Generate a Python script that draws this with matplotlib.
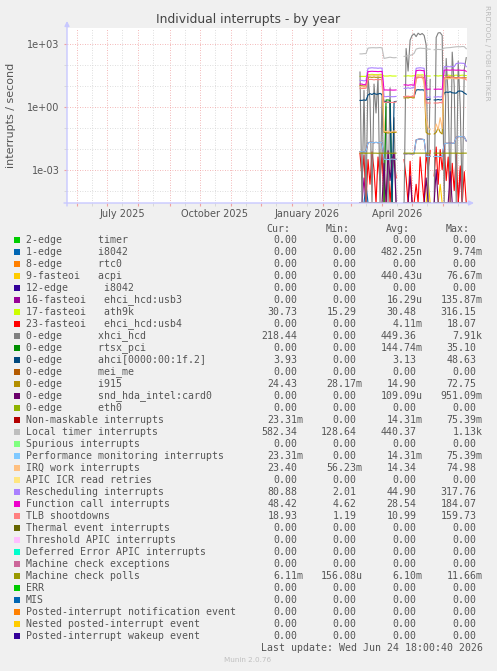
import numpy as np
import matplotlib
matplotlib.use("Agg")
import matplotlib.pyplot as plt
import matplotlib.dates as mdates
import matplotlib.ticker as mticker
from matplotlib.patches import Rectangle
from datetime import datetime, timedelta

nan = float("nan")

# samples every 2 days, 2026-03-10 .. 2026-06-23 (gaps are nan)
dates = [datetime(2026, 3, 10) + timedelta(days=2 * k) for k in range(54)]

zero = [0] * 19 + [nan] * 3 + [0] * 14 + [nan] + [0] * 17

local_timer = [
    330, 330, 340, 340, 620, 640, 650, 650, 640, 650, 660, 640, 200, 210, 220, 230, 220, 215, 220,
    nan, nan, nan,
    250, 260, 270, 280, 300, 350, 560, 600, 620, 610, 600, 580, 560, 550,
    nan,
    520, 530, 540, 530, 540, 620, 640, 650, 660, 680, 700, 720, 730, 720, 740, 730, 582.34,
]
xhci = [
    45, 0, 6, 0, 30, 2, 0, 12, 0.5, 25, 0, 4, 0, 1, 0, 8, 0, 0.3, 0,
    nan, nan, nan,
    0, 600, 50, 1500, 2500, 3000, 2200, 3200, 2700, 3100, 2500, 900, 0, 20,
    nan,
    0, 2000, 3300, 3400, 2500, 0, 200, 3, 0, 400, 10, 0, 150, 1, 0, 60, 218.44,
]
resched = [
    18, 18, 17, 18, 68, 70, 72, 70, 70, 68, 70, 69, 3, 3, 3.1, 3, 3, 3, 3.1,
    nan, nan, nan,
    7.5, 7.5, 8, 7.5, 8, 8, 68, 70, 72, 70, 68, 2.8, 2.8, 2.9,
    nan,
    2.9, 2.9, 3, 2.9, 3, 80, 82, 81, 80, 82, 81, 115, 118, 120, 118, 116, 80.88,
]
func_call = [
    12, 12, 11, 12, 47, 48, 49, 48, 48, 47, 48, 48, 6.2, 6.3, 6.2, 6.3, 6.2, 6.2, 6.3,
    nan, nan, nan,
    11, 11, 10.5, 11, 11, 10.5, 52, 54, 55, 53, 52, 6.8, 6.8, 6.9,
    nan,
    6.8, 6.8, 6.9, 6.8, 6.8, 55, 56, 56, 55, 57, 56, 55, 56, 55, 54, 55, 48.42,
]
tlb = [
    7.5, 7.5, 7.4, 7.6, 19, 20, 20, 19, 20, 19, 20, 19, 1.6, 1.6, 1.7, 1.6, 1.6, 1.6, 1.7,
    nan, nan, nan,
    3, 3, 3.2, 3, 3.1, 3, 22, 24, 25, 24, 22, 1.5, 1.5, 1.5,
    nan,
    1.5, 1.5, 1.5, 1.6, 1.5, 24, 26, 28, 27, 25, 24, 23, 24, 25, 24, 23, 18.93,
]
ath9k = [
    28, 28, 28, 28, 34, 34, 35, 34, 34, 34, 35, 34, 29, 29, 29, 30, 29, 29, 29,
    nan, nan, nan,
    29, 29, 30, 29, 29, 30, 32, 33, 32, 33, 32, 29, 29, 29,
    nan,
    30, 30, 29, 30, 30, 31, 31, 32, 31, 31, 31, 32, 31, 31, 32, 31, 30.73,
]
irq_work = [
    9, 9, 8.5, 9, 30, 32, 32, 31, 32, 31, 32, 31, 0.07, 0.065, 0.07, 0.06, 0.065, 0.07, 0.066,
    nan, nan, nan,
    3, 3.2, 3, 3.1, 3, 3.2, 28, 30, 31, 30, 12, 0.3, 0.1, 0.08,
    nan,
    0.07, 0.15, 0.08, 0.3, 0.09, 20, 22, 21, 22, 23, 22, 21, 22, 23, 22, 21, 23.40,
]
i915 = [
    10, 10, 9.5, 10, 25, 26, 25, 26, 25, 26, 25, 26, 0.06, 0.06, 0.055, 0.06, 0.058, 0.06, 0.06,
    nan, nan, nan,
    2.6, 2.7, 2.6, 2.8, 2.7, 2.6, 25, 26, 25, 26, 25, 0.06, 0.05, 0.05,
    nan,
    0.05, 0.06, 0.1, 0.06, 0.05, 24, 25, 24, 25, 26, 25, 24, 25, 24, 25, 24, 24.43,
]
ahci = [
    2.0, 2.0, 2.1, 2.0, 3.6, 4.2, 3.8, 4.4, 3.9, 4.0, 4.3, 3.8, 1.8, 1.7, 1.6, 1.7, 0, 1.7, 1.8,
    nan, nan, nan,
    3, 3.1, 2.9, 3, 3.1, 3, 6.2, 6.5, 6.3, 6.4, 6.2, 2.2, 2.2, 2.3,
    nan,
    2.1, 2.1, 2.2, 2.1, 2.2, 4.5, 5, 4.8, 5.2, 4.6, 4.5, 4.4, 5.5, 5.6, 5.4, 4.5, 3.93,
]
rtsx = [
    0, 0, 0, 0, 0, 0, 0, 0, 0, 0, 0, 0, 0, 2.1, 2.1, 2.0, 0, 0, 0,
    nan, nan, nan,
    0, 0, 0, 0, 0, 0, 0, 0, 0, 0, 0, 0, 0, 0,
    nan,
    0, 0, 0, 0, 0, 0, 0, 0, 0, 0, 0, 0, 0, 0, 0, 0, 0,
]
perf_mon = [
    0.0072, 0.0072, 0.007, 0.0075, 0.019, 0.02, 0.02, 0.019, 0.02, 0.019, 0.02, 0.019,
    0.0031, 0.0031, 0.003, 0.0031, 0.0032, 0.0031, 0.0031,
    nan, nan, nan,
    0.0057, 0.0056, 0.0058, 0.0057, 0.0056, 0.0057, 0.026, 0.028, 0.029, 0.028, 0.027,
    0.0042, 0.0042, 0.0043,
    nan,
    0.0042, 0.0043, 0.0042, 0.0042, 0.0043, 0.017, 0.018, 0.018, 0.019, 0.018, 0.018,
    0.035, 0.037, 0.038, 0.037, 0.036, 0.02331,
]
mc_polls = [
    0.0061, 0.0061, 0.0061, 0.006, 0.0061, 0.0061, 0.0061, 0.0061, 0.0061, 0.006,
    0.0061, 0.0061, 0.0061, 0.0061, 0.0061, 0.0061, 0.006, 0.0061, 0.0061,
    nan, nan, nan,
    0.0061, 0.0061, 0.0061, 0.0061, 0.006, 0.0061, 0.0061, 0.0061, 0.0061, 0.0061,
    0.0061, 0.0061, 0.006, 0.0061,
    nan,
    0.0061, 0.0061, 0.0061, 0.0061, 0.0061, 0.006, 0.0061, 0.0061, 0.0061, 0.0061,
    0.0061, 0.0061, 0.0061, 0.006, 0.0061, 0.0061, 0.00611,
]
usb4 = [
    0.006, 0.0004, 0.005, 0, 0.003, 0.0002, 0.007, 0.001, 0, 0.004, 0.0003, 0.006, 0, 0,
    0.002, 0, 0.0008, 0.005, 0.0004,
    nan, nan, nan,
    0.003, 0.0004, 0, 0.0025, 0, 0, 0.0002, 0, 0.004, 0.0003, 0, 0.006, 0.001, 0.008,
    nan,
    0.0005, 0.012, 0.0002, 0.009, 0.001, 0.015, 0.0003, 0.004, 0, 0.002, 0.0001, 0.006, 0,
    0.0015, 0, 0.0008, 0,
]
snd_hda = [
    0, 0, 0, 0, 0, 0, 0, 0, 0, 0, 0, 0, 0.002, 0, 0.008, 0.0003, 0.003, 0.006, 0,
    nan, nan, nan,
    0, 0, 0, 0.0005, 0, 0, 0, 0, 0, 0, 0, 0.0004, 0, 0,
    nan,
    0, 0.001, 0, 0, 0, 0, 0, 0, 0.0008, 0, 0, 0, 0, 0, 0, 0, 0,
]
usb3 = [
    0, 0, 0.0004, 0, 0, 0, 0, 0, 0, 0, 0, 0, 0, 0, 0, 0, 0, 0, 0,
    nan, nan, nan,
    0, 0, 0, 0, 0, 0, 0, 0, 0, 0, 0, 0, 0, 0,
    nan,
    0, 0, 0, 0, 0, 0, 0, 0, 0, 0, 0, 0, 0, 0.0009, 0, 0, 0,
]
i8042 = [
    0, 0, 0, 0.0002, 0, 0, 0, 0, 0, 0, 0, 0, 0, 0, 0, 0, 0, 0, 0,
    nan, nan, nan,
    0, 0, 0, 0, 0, 0, 0, 0, 0, 0, 0, 0, 0, 0,
    nan,
    0, 0, 0, 0, 0, 0, 0, 0, 0, 0, 0, 0, 0, 0, 0, 0, 0,
]
acpi = [
    0, 0, 0, 0, 0, 0, 0, 0, 0, 0, 0, 0, 0, 0, 0, 0, 0, 0, 0,
    nan, nan, nan,
    0, 0, 0, 0, 0, 0, 0, 0, 0, 0, 0, 0, 0.0003, 0,
    nan,
    0, 0, 0, 0.0002, 0, 0, 0, 0, 0, 0, 0, 0, 0, 0, 0, 0, 0,
]

labels = [
    "2-edge      timer", "1-edge      i8042", "8-edge      rtc0", "9-fasteoi   acpi",
    "12-edge      i8042", "16-fasteoi   ehci_hcd:usb3", "17-fasteoi   ath9k",
    "23-fasteoi   ehci_hcd:usb4", "0-edge      xhci_hcd", "0-edge      rtsx_pci",
    "0-edge      ahci[0000:00:1f.2]", "0-edge      mei_me", "0-edge      i915",
    "0-edge      snd_hda_intel:card0", "0-edge      eth0", "Non-maskable interrupts",
    "Local timer interrupts", "Spurious interrupts", "Performance monitoring interrupts",
    "IRQ work interrupts", "APIC ICR read retries", "Rescheduling interrupts",
    "Function call interrupts", "TLB shootdowns", "Thermal event interrupts",
    "Threshold APIC interrupts", "Deferred Error APIC interrupts", "Machine check exceptions",
    "Machine check polls", "ERR", "MIS", "Posted-interrupt notification event",
    "Nested posted-interrupt event", "Posted-interrupt wakeup event",
]
colors = [
    "#00CC00", "#0066B3", "#FF8000", "#FFCC00", "#330099", "#990099", "#CCFF00", "#FF0000",
    "#808080", "#008F00", "#00487D", "#B35A00", "#B38F00", "#6B006B", "#8FB300", "#B30000",
    "#BEBEBE", "#80FF80", "#80C9FF", "#FFC080", "#FFE680", "#AA80FF", "#EE00CC", "#FF8080",
    "#666600", "#FFBFFF", "#00FFCC", "#CC6699", "#999900", "#00CC00", "#0066B3", "#FF8000",
    "#FFCC00", "#330099",
]
series = [
    zero, i8042, zero, acpi, zero, usb3, ath9k, usb4, xhci, rtsx, ahci, zero, i915, snd_hda,
    zero, perf_mon, local_timer, zero, perf_mon, irq_work, zero, resched, func_call, tlb,
    zero, zero, zero, zero, mc_polls, zero, zero, zero, zero, zero,
]
cur = ["0.00", "0.00", "0.00", "0.00", "0.00", "0.00", "30.73", "0.00", "218.44", "0.00",
       "3.93", "0.00", "24.43", "0.00", "0.00", "23.31m", "582.34", "0.00", "23.31m", "23.40",
       "0.00", "80.88", "48.42", "18.93", "0.00", "0.00", "0.00", "0.00", "6.11m", "0.00",
       "0.00", "0.00", "0.00", "0.00"]
mins = ["0.00", "0.00", "0.00", "0.00", "0.00", "0.00", "15.29", "0.00", "0.00", "0.00",
        "0.00", "0.00", "28.17m", "0.00", "0.00", "0.00", "128.64", "0.00", "0.00", "56.23m",
        "0.00", "2.01", "4.62", "1.19", "0.00", "0.00", "0.00", "0.00", "156.08u", "0.00",
        "0.00", "0.00", "0.00", "0.00"]
avgs = ["0.00", "482.25n", "0.00", "440.43u", "0.00", "16.29u", "30.48", "4.11m", "449.36",
        "144.74m", "3.13", "0.00", "14.90", "109.09u", "0.00", "14.31m", "440.37", "0.00",
        "14.31m", "14.34", "0.00", "44.90", "28.54", "10.99", "0.00", "0.00", "0.00", "0.00",
        "6.10m", "0.00", "0.00", "0.00", "0.00", "0.00"]
maxs = ["0.00", "9.74m", "0.00", "76.67m", "0.00", "135.87m", "316.15", "18.07", "7.91k",
        "35.10", "48.63", "0.00", "72.75", "951.09m", "0.00", "75.39m", "1.13k", "0.00",
        "75.39m", "74.98", "0.00", "317.76", "184.07", "159.73", "0.00", "0.00", "0.00", "0.00",
        "11.66m", "0.00", "0.00", "0.00", "0.00", "0.00"]

W, H = 497, 671
BG = "#f0f0f0"
TXT = "#555555"
MONO = "DejaVu Sans Mono"


def fx(x):
    return x / W


def fy(y):
    return 1 - y / H


fig = plt.figure(figsize=(W / 100, H / 100), dpi=100, facecolor=BG)
ax = fig.add_axes([fx(67), fy(203), 400 / W, 175 / H])
ax.set_facecolor("white")
ax.set_yscale("log")
ylo, yhi = 10 ** -4.592, 10 ** 3.753
ax.set_ylim(ylo, yhi)
ax.set_xlim(datetime(2025, 5, 21, 18), datetime(2026, 6, 24, 18))

for vals, col in zip(series, colors):
    arr = np.array(vals, dtype=float)
    arr = np.where(arr <= 0, ylo, arr)
    ax.plot(dates, arr, color=col, lw=0.8)

# grid
ax.yaxis.set_major_locator(mticker.FixedLocator([1e-3, 1e0, 1e3]))
ax.yaxis.set_minor_locator(mticker.FixedLocator([1e-4, 1e-2, 1e-1, 1e1, 1e2]))
ax.yaxis.set_major_formatter(mticker.FuncFormatter(lambda v, p: f"{v:.0e}"))
ax.yaxis.set_minor_formatter(mticker.NullFormatter())
ax.xaxis.set_major_locator(mdates.MonthLocator(bymonthday=1))
ax.xaxis.set_minor_locator(mdates.MonthLocator(bymonthday=16))
ax.xaxis.set_major_formatter(mticker.NullFormatter())


def month_label(v, p):
    d = mdates.num2date(v)
    return d.strftime("%B %Y") if d.month in (1, 4, 7, 10) else ""


ax.xaxis.set_minor_formatter(mticker.FuncFormatter(month_label))
ax.grid(which="major", color="#f0a0a0", ls=(0, (1, 2)), lw=0.6)
ax.grid(which="minor", color="#d4d4d4", ls=(0, (1, 2)), lw=0.6)
ax.set_axisbelow(True)
ax.tick_params(which="major", length=2, color="#f0a0a0", labelsize=7, labelcolor=TXT)
ax.tick_params(which="minor", length=2, color="#d4d4d4", labelsize=7, labelcolor=TXT)
ax.tick_params(axis="x", which="both", pad=2)
ax.tick_params(axis="y", which="both", pad=3.5)
for s in ax.spines.values():
    s.set_visible(False)

# axis arrows
axc = "#c8c8ff"
ax_kw = dict(arrowstyle="-|>", color=axc, lw=1, mutation_scale=7, shrinkA=0, shrinkB=0)
fig.add_artist(plt.matplotlib.text.Annotation(
    "", xy=(67, H - 21), xytext=(67, H - 206), xycoords="figure pixels",
    textcoords="figure pixels", arrowprops=ax_kw))
fig.add_artist(plt.matplotlib.text.Annotation(
    "", xy=(474, H - 203), xytext=(64, H - 203), xycoords="figure pixels",
    textcoords="figure pixels", arrowprops=ax_kw))

fig.text(fx(248), fy(19), "Individual interrupts - by year", ha="center", va="center",
         fontsize=8.9, color="#444444")
fig.text(fx(11), fy(115), "interrupts / second", rotation=90, ha="center", va="center",
         fontsize=8, color=TXT)
fig.text(fx(487), fy(53), "RRDTOOL / TOBI OETIKER", rotation=270, ha="center", va="center",
         fontsize=5.4, color="#bbbbbb")

# legend
edges = [303.3, 362.7, 422.7, 482.7]
for head, e in zip(["Cur:", "Min:", "Avg:", "Max:"], edges):
    fig.text(fx(e - 13), fy(228.5), head, ha="right", va="center", family=MONO,
             fontsize=7.1, color=TXT)

for i, (lab, col) in enumerate(zip(labels, colors)):
    yr = 240 + 12 * i
    fig.add_artist(Rectangle((fx(14), fy(yr + 3)), 6 / W, 6 / H, transform=fig.transFigure,
                             facecolor=col, edgecolor="none"))
    fig.text(fx(26), fy(yr), lab, ha="left", va="center", family=MONO, fontsize=7.1, color=TXT)
    for s, e in zip([cur[i], mins[i], avgs[i], maxs[i]], edges):
        xr = e if s[-1].isalpha() else e - 6
        fig.text(fx(xr), fy(yr), s, ha="right", va="center", family=MONO, fontsize=7.1,
                 color=TXT)

fig.text(fx(482.7), fy(648), "Last update: Wed Jun 24 18:00:40 2026", ha="right",
         va="center", family=MONO, fontsize=7.1, color=TXT)
fig.text(fx(248), fy(660), "Munin 2.0.76", ha="center", va="center", fontsize=5.2,
         color="#c0c0c0")

fig.savefig("out.png", dpi=100, facecolor=BG)
